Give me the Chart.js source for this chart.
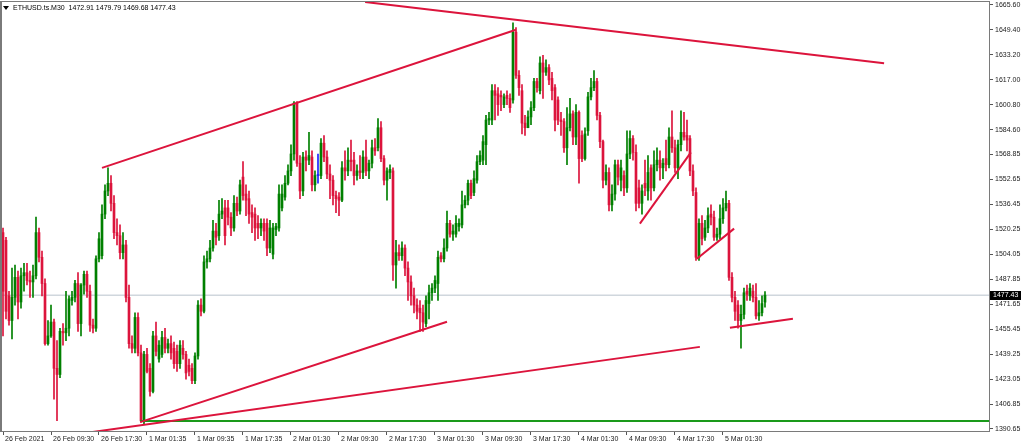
<!DOCTYPE html>
<html>
<head>
<meta charset="utf-8">
<title>ETHUSD.ts.M30</title>
<script src="https://cdn.jsdelivr.net/npm/chart.js@4.4.1/dist/chart.umd.min.js"></script>
<style>
  html, body { margin: 0; padding: 0; background: #fff; }
  canvas { display: block; }
</style>
</head>
<body>
<canvas id="chart" width="1024" height="447"></canvas>
<script>
// ETHUSD M30 candles (one entry per bar)
const symbolTitle = 'ETHUSD.ts.M30';

const opens = [
  1518,1513,1477,1461,1476,1489,1473,1490,1492,1487,
  1486,1490,1518,1502,1485,1446,1451,1460,1430,1426,
  1454,1453,1456,1474,1476,1485,1459,1484,1491,1480,
  1458,1456,1501,1503,1530,1545,1550,1537,1518,1516,
  1505,1510,1476,1446,1443,1463,1440,1396,1439,1430,
  1415,1451,1436,1439,1450,1443,1446,1443,1441,1433,
  1443,1439,1432,1430,1422,1438,1471,1467,1499,1501,
  1508,1519,1516,1530,1534,1534,1528,1521,1537,1532,
  1554,1543,1540,1531,1530,1524,1521,1524,1524,1508,
  1504,1520,1521,1534,1541,1550,1558,1569,1602,1563,
  1545,1567,1565,1567,1549,1555,1555,1576,1567,1556,
  1552,1542,1541,1539,1560,1558,1565,1565,1555,1558,
  1557,1567,1558,1563,1573,1573,1586,1566,1552,1557,
  1558,1497,1505,1503,1508,1495,1486,1477,1471,1469,
  1466,1459,1472,1479,1482,1485,1503,1501,1508,1524,
  1517,1517,1522,1523,1536,1539,1550,1544,1552,1564,
  1565,1575,1591,1591,1610,1608,1607,1601,1607,1605,
  1604,1648,1620,1610,1589,1586,1593,1599,1616,1610,
  1628,1622,1625,1618,1612,1604,1591,1590,1573,1586,
  1595,1580,1596,1581,1566,1584,1606,1612,1616,1594,
  1577,1552,1557,1536,1543,1562,1552,1555,1547,1569,
  1579,1570,1547,1537,1550,1545,1560,1547,1562,1565,
  1560,1566,1562,1580,1573,1560,1575,1583,1581,1579,
  1558,1544,1502,1524,1515,1521,1530,1528,1515,1517,
  1527,1534,1537,1489,1476,1471,1461,1465,1480,1477,
  1480,1476,1464,1466,1472.91
];

const highs = [
  1521,1515,1480,1495,1497,1493,1495,1498,1498,1493,
  1497,1528,1521,1506,1488,1461,1471,1462,1448,1456,
  1459,1480,1477,1480,1487,1492,1485,1493,1493,1484,
  1462,1503,1518,1536,1549,1560,1555,1542,1527,1523,
  1518,1513,1484,1451,1466,1466,1445,1441,1443,1433,
  1454,1460,1448,1454,1456,1449,1451,1447,1445,1448,
  1448,1441,1436,1433,1440,1474,1475,1503,1506,1513,
  1526,1524,1539,1540,1539,1539,1531,1542,1541,1552,
  1564,1549,1545,1536,1534,1529,1527,1527,1527,1526,
  1524,1524,1549,1549,1555,1562,1575,1603,1603,1568,
  1570,1571,1583,1571,1558,1569,1579,1581,1571,1562,
  1555,1545,1544,1564,1571,1573,1578,1570,1562,1568,
  1571,1578,1565,1578,1579,1592,1590,1568,1560,1562,
  1560,1513,1510,1512,1510,1499,1490,1482,1475,1474,
  1471,1477,1484,1485,1490,1506,1505,1514,1532,1526,
  1523,1529,1527,1545,1542,1552,1552,1558,1568,1571,
  1581,1594,1596,1614,1614,1612,1610,1608,1610,1608,
  1654,1651,1623,1614,1594,1597,1603,1618,1618,1632,
  1633,1630,1627,1622,1614,1606,1596,1592,1599,1605,
  1597,1601,1597,1584,1586,1609,1618,1623,1618,1596,
  1578,1562,1560,1549,1565,1565,1565,1558,1584,1584,
  1581,1575,1552,1549,1565,1568,1562,1571,1573,1571,
  1566,1578,1586,1597,1578,1578,1597,1596,1591,1581,
  1562,1547,1527,1529,1526,1534,1536,1532,1521,1536,
  1540,1545,1539,1492,1480,1474,1471,1482,1484,1485,
  1484,1485,1474,1477,1479.79
];

const lows = [
  1451,1462,1458,1449,1471,1462,1469,1480,1484,1476,
  1476,1488,1499,1477,1445,1445,1450,1410,1396,1424,
  1445,1448,1451,1471,1473,1454,1451,1478,1476,1454,
  1453,1454,1499,1501,1527,1542,1532,1514,1510,1501,
  1501,1473,1443,1440,1440,1438,1395,1394,1427,1412,
  1414,1438,1434,1437,1440,1440,1436,1430,1428,1430,
  1436,1423,1425,1420,1420,1436,1464,1466,1495,1499,
  1506,1510,1513,1527,1510,1523,1516,1519,1529,1530,
  1539,1529,1524,1518,1513,1514,1516,1513,1503,1505,
  1501,1516,1519,1532,1539,1549,1555,1565,1561,1540,
  1542,1558,1562,1545,1545,1550,1553,1564,1553,1540,
  1536,1531,1529,1538,1552,1555,1558,1549,1552,1553,
  1553,1555,1553,1560,1568,1571,1564,1549,1539,1553,
  1487,1482,1500,1500,1490,1474,1471,1466,1462,1454,
  1454,1457,1462,1474,1479,1474,1499,1499,1506,1515,
  1513,1515,1519,1521,1534,1536,1540,1542,1550,1562,
  1562,1562,1588,1588,1591,1594,1597,1599,1601,1596,
  1602,1618,1607,1582,1581,1586,1588,1597,1609,1608,
  1605,1620,1614,1604,1584,1588,1581,1570,1562,1584,
  1575,1575,1550,1564,1565,1581,1604,1610,1591,1573,
  1547,1549,1532,1532,1539,1549,1545,1542,1544,1566,
  1565,1532,1534,1530,1542,1539,1539,1545,1558,1552,
  1553,1558,1560,1570,1557,1553,1571,1578,1571,1555,
  1542,1500,1500,1510,1513,1518,1523,1513,1513,1514,
  1524,1532,1487,1473,1461,1456,1443,1462,1474,1474,
  1473,1462,1461,1464,1469.68
];

const closes = [
  1480,1467,1461,1476,1489,1473,1490,1492,1487,1486,
  1490,1518,1502,1485,1446,1451,1460,1430,1426,1454,
  1453,1456,1475,1476,1485,1459,1484,1491,1480,1458,
  1456,1501,1514,1530,1545,1550,1537,1518,1516,1505,
  1510,1476,1446,1443,1463,1440,1396,1439,1428,1415,
  1451,1441,1445,1450,1443,1446,1440,1433,1433,1445,
  1439,1427,1428,1422,1438,1471,1467,1499,1501,1508,
  1519,1515,1530,1532,1516,1528,1521,1537,1532,1549,
  1542,1539,1530,1528,1521,1521,1524,1519,1508,1521,
  1521,1522,1543,1543,1550,1558,1569,1602,1563,1545,
  1567,1565,1568,1549,1555,1555,1576,1567,1556,1552,
  1542,1540,1539,1560,1558,1565,1564,1555,1558,1557,
  1567,1558,1563,1573,1571,1586,1566,1552,1558,1559,
  1497,1505,1503,1508,1495,1486,1477,1471,1467,1466,
  1460,1474,1479,1482,1487,1502,1501,1508,1524,1517,
  1519,1524,1524,1536,1539,1550,1542,1553,1564,1568,
  1577,1591,1592,1610,1607,1601,1606,1606,1605,1599,
  1648,1620,1612,1589,1586,1593,1599,1616,1612,1628,
  1622,1625,1617,1610,1591,1591,1590,1573,1586,1595,
  1580,1596,1566,1566,1582,1606,1612,1616,1594,1577,
  1552,1557,1536,1543,1562,1554,1560,1547,1569,1579,
  1570,1537,1537,1545,1547,1557,1547,1562,1565,1560,
  1563,1562,1580,1573,1560,1575,1583,1580,1578,1558,
  1545,1502,1524,1514,1521,1529,1528,1515,1517,1527,
  1534,1537,1489,1476,1467,1461,1465,1479,1478,1482,
  1476,1464,1466,1472,1477.43
];

// time axis: a label every 16 bars
const timeLabelBars = [0, 16, 32, 48, 64, 80, 96, 112, 128, 144, 160, 176, 192, 208, 224, 240];
const timeLabels = [
  '26 Feb 2021', '26 Feb 09:30', '26 Feb 17:30', '1 Mar 01:35', '1 Mar 09:35', '1 Mar 17:35',
  '2 Mar 01:30', '2 Mar 09:30', '2 Mar 17:30', '3 Mar 01:30', '3 Mar 09:30', '3 Mar 17:30',
  '4 Mar 01:30', '4 Mar 09:30', '4 Mar 17:30', '5 Mar 01:30'
];

const priceTicks = [
  1665.60, 1649.40, 1633.20, 1617.00, 1600.80, 1584.60, 1568.85, 1552.65, 1536.45,
  1520.25, 1504.05, 1487.85, 1471.65, 1455.45, 1439.25, 1423.05, 1406.85, 1390.65
];

const priceMin = 1389.35;
const priceMax = 1668.19;
const barMin = -0.667;
const barMax = 328.67;

const lastPrice = 1477.43;
const supportLevel = 1395.8;
const supportStartBar = 45.7;

// hand-drawn trend lines: [bar1, price1, bar2, price2]
const trendLines = [
  [33, 1560, 171, 1649.5],
  [120.7, 1667.5, 293.7, 1627.8],
  [45.7, 1395.1, 148, 1460.2],
  [27.3, 1388, 232.3, 1443.9],
  [212.3, 1523.8, 229.3, 1570.0],
  [231.3, 1501.1, 243.7, 1520.6],
  [242.3, 1456.3, 263.3, 1462.1]
];

const bullColor = '#008000';
const bearColor = '#dc143c';
const dojiColor = '#2020ff';
const lineColor = '#dc143c';
const axisFont = { family: 'Liberation Sans, Arial, sans-serif', size: 7 };

function candleColor(i) {
  if (closes[i] === opens[i]) return dojiColor;
  return closes[i] > opens[i] ? bullColor : bearColor;
}

const barIdx = opens.map((_, i) => i);

const datasets = [];

// last price line (behind the candles)
datasets.push({
  type: 'line',
  data: [{ x: barMin, y: lastPrice }, { x: barMax, y: lastPrice }],
  borderColor: '#b8c2cc',
  borderWidth: 1,
  pointRadius: 0,
  order: 10
});

// wicks
datasets.push({
  type: 'bar',
  data: barIdx.map(i => ({ x: i, y: [lows[i], highs[i]] })),
  backgroundColor: ctx => candleColor(ctx.dataIndex),
  barThickness: 1,
  grouped: false,
  order: 6
});

// bodies
datasets.push({
  type: 'bar',
  data: barIdx.map(i => ({ x: i, y: [opens[i], closes[i]] })),
  backgroundColor: ctx => candleColor(ctx.dataIndex),
  barThickness: 2,
  minBarLength: 1,
  grouped: false,
  order: 5
});

// support level
datasets.push({
  type: 'line',
  data: [{ x: supportStartBar, y: supportLevel }, { x: barMax, y: supportLevel }],
  borderColor: '#1a9a1a',
  borderWidth: 2,
  pointRadius: 0,
  order: 2
});

trendLines.forEach(t => {
  datasets.push({
    type: 'line',
    data: [{ x: t[0], y: t[1] }, { x: t[2], y: t[3] }],
    borderColor: lineColor,
    borderWidth: 2,
    pointRadius: 0,
    clip: 0,
    order: 1
  });
});

// frame, title and last price box
const terminalPlugin = {
  id: 'terminal',
  afterDraw(chart) {
    const ctx = chart.ctx;
    const a = chart.chartArea;
    ctx.save();
    ctx.fillStyle = '#7a7a7a';
    ctx.fillRect(0, a.top, 2, a.bottom - a.top + 1);
    ctx.fillRect(0, a.top, a.right + 1, 1);
    ctx.fillRect(a.right, a.top, 1, a.bottom - a.top + 1);
    ctx.fillRect(0, a.bottom, a.right + 1, 1);

    // title
    const n = opens.length - 1;
    ctx.fillStyle = '#000';
    ctx.beginPath();
    ctx.moveTo(3, 6);
    ctx.lineTo(9, 6);
    ctx.lineTo(6, 10);
    ctx.closePath();
    ctx.fill();
    ctx.font = '7px ' + axisFont.family;
    ctx.textBaseline = 'middle';
    ctx.textAlign = 'left';
    ctx.fillText(symbolTitle + '  ' + [opens[n], highs[n], lows[n], closes[n]].map(v => v.toFixed(2)).join(' '), 13, 8);

    // last price tag
    const y = chart.scales.y.getPixelForValue(lastPrice);
    ctx.fillStyle = '#000';
    ctx.fillRect(a.right + 1, Math.round(y) - 4, 31, 9);
    ctx.fillStyle = '#fff';
    ctx.fillText(lastPrice.toFixed(2), a.right + 4, Math.round(y) + 0.5);
    ctx.restore();
  }
};

new Chart(document.getElementById('chart'), {
  type: 'bar',
  data: { datasets },
  options: {
    responsive: false,
    animation: false,
    devicePixelRatio: 1,
    layout: { padding: { top: 1, left: 1, right: 0, bottom: 0 } },
    plugins: {
      legend: { display: false },
      tooltip: { enabled: false }
    },
    scales: {
      x: {
        type: 'linear',
        min: barMin,
        max: barMax,
        offset: false,
        grid: { display: true, drawOnChartArea: false, drawTicks: true, tickLength: 4, tickColor: '#555', offset: false },
        border: { display: false },
        ticks: {
          autoSkip: false,
          maxRotation: 0,
          align: 'start',
          labelOffset: 2,
          padding: 0,
          color: '#222',
          font: axisFont,
          callback: value => {
            const k = timeLabelBars.indexOf(value);
            return k >= 0 ? timeLabels[k] : '';
          }
        },
        afterBuildTicks: scale => {
          scale.ticks = timeLabelBars.map(v => ({ value: v }));
        },
        afterFit: scale => {
          scale.height = 16;
          scale.paddingLeft = 0;
          scale.paddingRight = 0;
        }
      },
      y: {
        position: 'right',
        min: priceMin,
        max: priceMax,
        grid: { display: true, drawOnChartArea: false, drawTicks: true, tickLength: 4, tickColor: '#555' },
        border: { display: false },
        ticks: {
          padding: 2,
          crossAlign: 'near',
          color: '#222',
          font: axisFont,
          callback: value => Number(value).toFixed(2)
        },
        afterBuildTicks: scale => {
          scale.ticks = priceTicks.map(v => ({ value: v }));
        },
        afterFit: scale => {
          scale.width = 35;
          scale.paddingTop = 0;
          scale.paddingBottom = 0;
        }
      }
    }
  },
  plugins: [terminalPlugin]
});
</script>
</body>
</html>
